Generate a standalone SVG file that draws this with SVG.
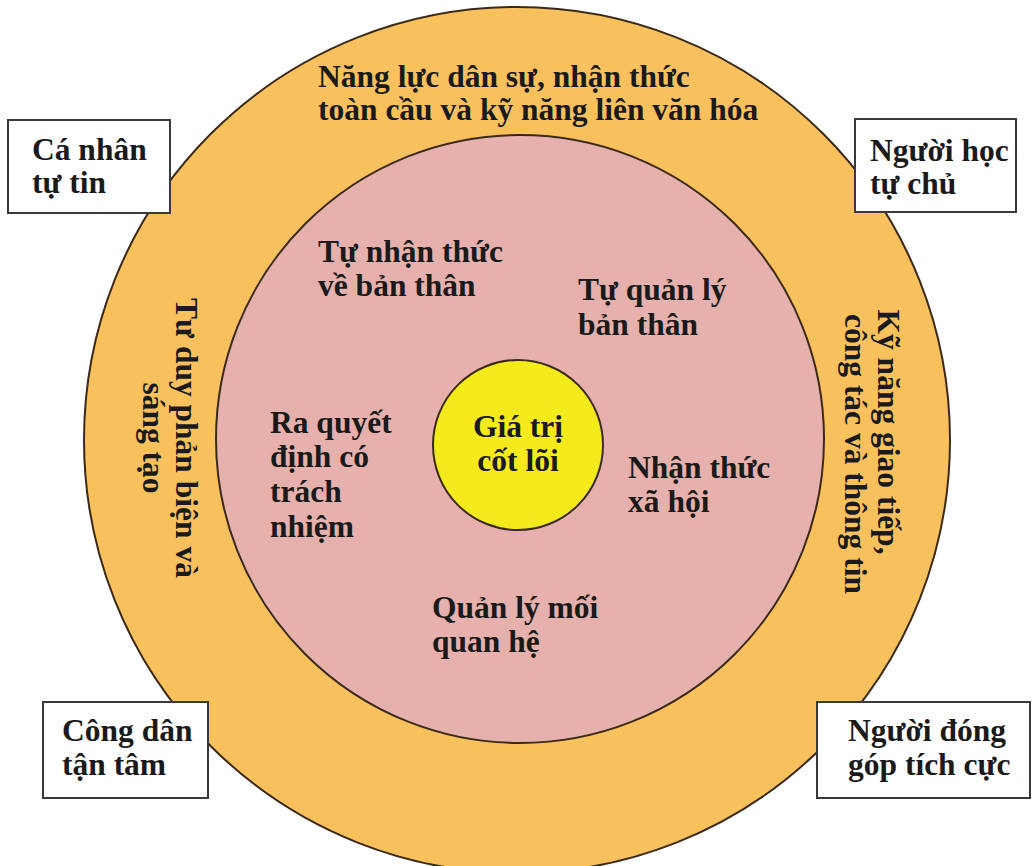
<svg xmlns="http://www.w3.org/2000/svg" width="1035" height="866" viewBox="0 0 1035 866">
<style>
.t{font-family:"Liberation Serif","Times New Roman",serif;font-weight:bold;font-size:31.5px;fill:#1a1a1a}
.box{fill:#ffffff;stroke:#3a3a3a;stroke-width:2}
.ring{stroke:#3b2a18;stroke-width:2}
</style>
<rect width="1035" height="866" fill="#ffffff"/>
<g id="outer">
<circle class="ring" cx="517" cy="440" r="433" fill="#F9C15E"/>
<text class="t" x="318" y="87">Năng lực dân sự, nhận thức</text>
<text class="t" x="318" y="120">toàn cầu và kỹ năng liên văn hóa</text>
<text class="t" transform="translate(176,438) rotate(90)" text-anchor="middle">Tư duy phản biện và</text>
<text class="t" transform="translate(143,438) rotate(90)" text-anchor="middle">sáng tạo</text>
<text class="t" transform="translate(878,432) rotate(90)" text-anchor="middle">Kỹ năng giao tiếp,</text>
<text class="t" transform="translate(845,454) rotate(90)" text-anchor="middle">công tác và thông tin</text>
</g>
<g id="inner">
<circle class="ring" cx="520" cy="439" r="304" fill="#E6B1AD"/>
<text class="t" x="318" y="262">Tự nhận thức</text>
<text class="t" x="318" y="296">về bản thân</text>
<text class="t" x="578" y="300">Tự quản lý</text>
<text class="t" x="578" y="335">bản thân</text>
<text class="t" x="270" y="433">Ra quyết</text>
<text class="t" x="270" y="467">định có</text>
<text class="t" x="270" y="502">trách</text>
<text class="t" x="270" y="537">nhiệm</text>
<text class="t" x="628" y="478">Nhận thức</text>
<text class="t" x="628" y="512">xã hội</text>
<text class="t" x="432" y="618">Quản lý mối</text>
<text class="t" x="432" y="652">quan hệ</text>
</g>
<g id="core">
<circle class="ring" cx="518" cy="445" r="85" fill="#F4EA1C"/>
<text class="t" x="518" y="437" text-anchor="middle">Giá trị</text>
<text class="t" x="518" y="471" text-anchor="middle">cốt lõi</text>
</g>
<g id="connectors"></g>
<g id="box-ca-nhan">
<rect class="box" x="8" y="120" width="162" height="93"/>
<text class="t" x="32" y="160">Cá nhân</text>
<text class="t" x="32" y="193">tự tin</text>
</g>
<g id="box-nguoi-hoc">
<rect class="box" x="855" y="119" width="161" height="93"/>
<text class="t" x="870" y="161">Người học</text>
<text class="t" x="870" y="194">tự chủ</text>
</g>
<g id="box-cong-dan">
<rect class="box" x="43" y="702" width="165" height="96"/>
<text class="t" x="62" y="741">Công dân</text>
<text class="t" x="62" y="775">tận tâm</text>
</g>
<g id="box-nguoi-dong-gop">
<rect class="box" x="817" y="702" width="213" height="96"/>
<text class="t" x="848" y="741">Người đóng</text>
<text class="t" x="848" y="775">góp tích cực</text>
</g>
</svg>
